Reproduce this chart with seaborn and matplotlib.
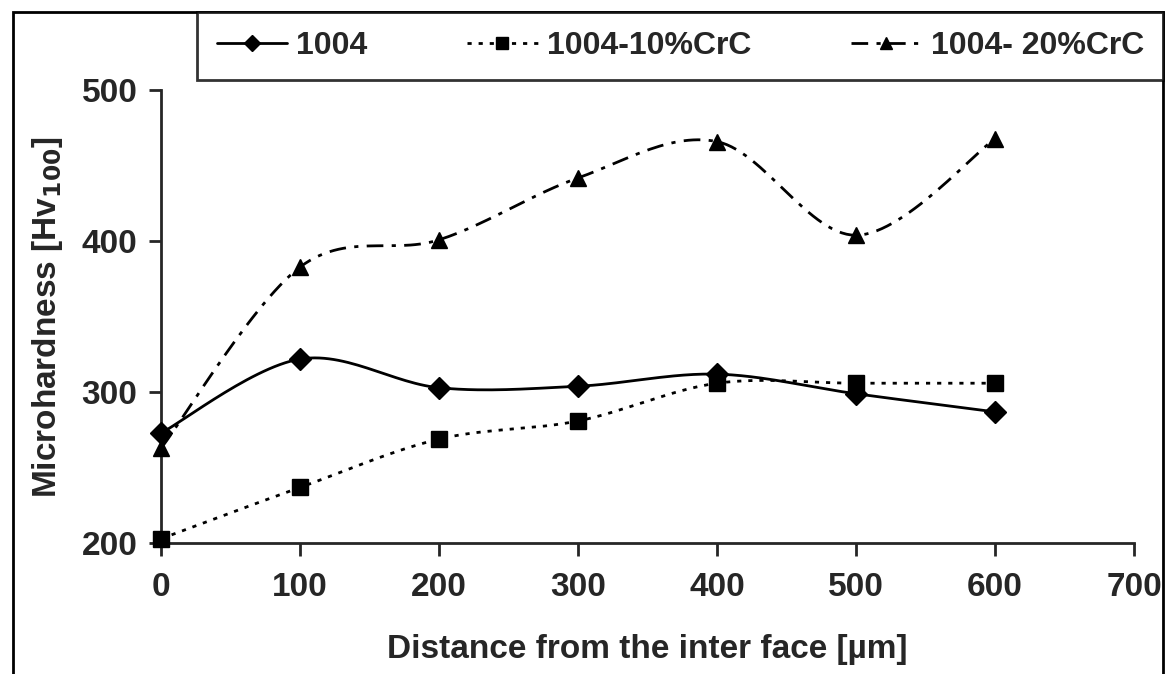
import numpy as np
import pandas as pd
import matplotlib
matplotlib.use("Agg")
import matplotlib.pyplot as plt
from matplotlib.lines import Line2D
from matplotlib.patches import Rectangle
import seaborn as sns

distance = [0, 100, 200, 300, 400, 500, 600]
hv_1004 = [273, 322, 303, 304, 312, 299, 287]
hv_10crc = [203, 237, 269, 281, 306, 306, 306]
hv_20crc = [263, 383, 401, 442, 466, 404, 468]
series_names = ["1004", "1004-10%CrC", "1004- 20%CrC"]
x_ticks = [0, 100, 200, 300, 400, 500, 600, 700]
y_ticks = [200, 300, 400, 500]

sns.set_style("ticks")
plt.rcParams['font.family'] = ['Liberation Sans', 'DejaVu Sans']
plt.rcParams['font.weight'] = 'bold'
plt.rcParams['mathtext.default'] = 'bf'


def smooth(xs, ys, n=30):
    # Bezier smoothing (Catmull-Rom style) for display of the curve
    xs = np.asarray(xs, float); ys = np.asarray(ys, float)
    P = np.column_stack([xs, ys])
    out = []
    for i in range(len(P) - 1):
        p0 = P[i - 1] if i > 0 else P[i]
        p1 = P[i]; p2 = P[i + 1]
        p3 = P[i + 2] if i + 2 < len(P) else P[i + 1]
        c1 = p1 + (p2 - p0) / 6.0
        c2 = p2 - (p3 - p1) / 6.0
        t = np.linspace(0, 1, n)[:, None]
        seg = ((1 - t) ** 3) * p1 + 3 * ((1 - t) ** 2) * t * c1 + 3 * (1 - t) * t ** 2 * c2 + t ** 3 * p2
        out.append(seg if i == 0 else seg[1:])
    arr = np.vstack(out)
    return arr[:, 0], arr[:, 1]


fig = plt.figure(figsize=(11.68, 6.74), dpi=100)
ax = fig.add_axes([0.138, 0.194, 0.833, 0.672])

styles = [
    dict(ls='-', marker='D', ms=11),
    dict(ls=(0, (1.5, 2.5)), marker='s', ms=11),
    dict(ls=(0, (6, 3, 1.5, 3)), marker='^', ms=12),
]
data = [hv_1004, hv_10crc, hv_20crc]
handles = []
for name, ys, st in zip(series_names, data, styles):
    sx, sy = smooth(distance, ys)
    df = pd.DataFrame({"x": sx, "y": sy})
    sns.lineplot(data=df, x="x", y="y", ax=ax, color='black', lw=2, sort=False,
                 estimator=None, linestyle=st['ls'])
    ax.plot(distance, ys, linestyle='none', marker=st['marker'], ms=st['ms'],
            color='black', clip_on=False, zorder=5)
    handles.append(Line2D([], [], color='black', lw=2, linestyle=st['ls'],
                          marker=st['marker'], ms=st['ms'] * 0.75))

ax.set_xlim(0, 700)
ax.set_ylim(200, 500)
ax.set_xticks(x_ticks)
ax.set_yticks(y_ticks)
sns.despine(ax=ax)
for s in ['left', 'bottom']:
    ax.spines[s].set_linewidth(2)
ax.tick_params(axis='both', labelsize=24, width=2, length=9, direction='out', pad=8)
ax.tick_params(axis='x', pad=12)
for lab in ax.get_xticklabels() + ax.get_yticklabels():
    lab.set_fontweight('bold')
ax.set_xlabel("Distance from the inter face [µm]", fontsize=24, fontweight='bold', labelpad=22)
ax.set_ylabel("Microhardness [Hv$_{100}$]", fontsize=24, fontweight='bold', labelpad=12)

leg = fig.legend(handles, series_names, loc='upper left', bbox_to_anchor=(0.169, 0.889, 0.827, 0.093),
                 mode='expand', ncol=3, frameon=True, fancybox=False, borderaxespad=0,
                 prop={'weight': 'bold', 'size': 23}, handlelength=2.2, borderpad=0.6,
                 handletextpad=0.3, columnspacing=2)
leg.get_frame().set_edgecolor('black')
leg.get_frame().set_linewidth(2)

fig.patches.append(Rectangle((0.011, -0.01), 0.985, 0.992, transform=fig.transFigure,
                             fill=False, edgecolor='black', lw=2))

fig.savefig("out.png", dpi=100)
